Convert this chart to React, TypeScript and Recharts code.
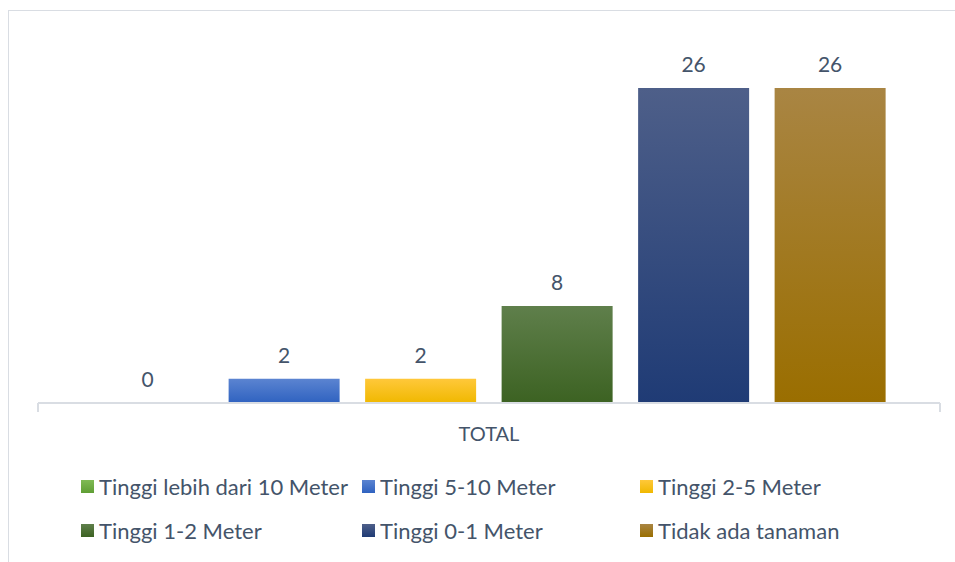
import React from 'react';
import { BarChart, Bar, XAxis, YAxis, Legend, LabelList } from 'recharts';

const categories = ['TOTAL'];
const seriesNames = [
  'Tinggi lebih dari 10 Meter',
  'Tinggi 5-10 Meter',
  'Tinggi 2-5 Meter',
  'Tinggi 1-2 Meter',
  'Tinggi 0-1 Meter',
  'Tidak ada tanaman',
];
const seriesValues = [0, 2, 2, 8, 26, 26];
const yDomain = [0, 30];

const colorsTop = ['#80BA55', '#5B84D1', '#FFC83A', '#5F7F4B', '#4E5F89', '#A98543'];
const colorsBottom = ['#5F9E34', '#2F62C0', '#F0B800', '#3C6222', '#1F3B75', '#9A6E00'];

const data = categories.map((c) => {
  const row: any = { name: c };
  seriesNames.forEach((s, i) => {
    row['s' + i] = seriesValues[i];
  });
  return row;
});

const FONT = 'Lato, "Open Sans", sans-serif';
const TEXT = '#44546A';
const AXIS = '#D9DDE3';

const legendCols = [81, 362, 640];
const legendRowTop = [0, 44];

const LegendContent = () => (
  <div style={{ position: 'relative', width: 955, height: 96, fontFamily: FONT }}>
    {seriesNames.map((s, i) => {
      const col = i % 3;
      const row = Math.floor(i / 3);
      return (
        <div
          key={s}
          style={{
            position: 'absolute',
            left: legendCols[col],
            top: legendRowTop[row],
            height: 44,
            display: 'flex',
            alignItems: 'center',
            whiteSpace: 'nowrap',
          }}
        >
          <span
            style={{
              display: 'inline-block',
              width: 13,
              height: 13,
              marginRight: 5,
              background: `linear-gradient(${colorsTop[i]}, ${colorsBottom[i]})`,
            }}
          />
          <span style={{ fontSize: 22, color: TEXT }}>{s}</span>
        </div>
      );
    })}
  </div>
);

const CategoryTick = (props: any) => {
  const { x, y, payload } = props;
  const half = payload && payload.offset ? payload.offset : 451;
  return (
    <g>
      <line x1={x - half} x2={x - half} y1={y} y2={y + 9} stroke={AXIS} strokeWidth={2} />
      <line x1={x + half} x2={x + half} y1={y} y2={y + 9} stroke={AXIS} strokeWidth={2} />
      <text x={x} y={y + 38} textAnchor="middle" fill={TEXT} fontSize={20} fontFamily={FONT}>
        {payload.value}
      </text>
    </g>
  );
};

export default function App() {
  return (
    <div style={{ position: 'absolute', left: 0, top: 0, width: 955, height: 562, overflow: 'hidden', background: '#fff' }}>
      <div
        style={{
          position: 'absolute',
          left: 8,
          top: 10,
          width: 1000,
          height: 600,
          border: '1px solid #D9DDE3',
          boxSizing: 'border-box',
        }}
      />
      <div style={{ position: 'absolute', left: 0, top: 0 }}>
        <BarChart
          width={955}
          height={562}
          data={data}
          margin={{ top: 39.5, right: 15, left: 38, bottom: 33 }}
          barCategoryGap="6%"
          barGap={25.5}
          style={{ fontFamily: FONT }}
        >
          <defs>
            {seriesNames.map((s, i) => (
              <linearGradient key={s} id={'grad' + i} x1="0" y1="0" x2="0" y2="1">
                <stop offset="0%" stopColor={colorsTop[i]} />
                <stop offset="100%" stopColor={colorsBottom[i]} />
              </linearGradient>
            ))}
          </defs>
          <XAxis
            dataKey="name"
            axisLine={{ stroke: AXIS, strokeWidth: 2 }}
            tickLine={false}
            tickSize={0}
            tickMargin={0}
            height={30}
            tick={<CategoryTick />}
          />
          <YAxis hide domain={yDomain} />
          {seriesNames.map((s, i) => (
            <Bar
              key={s}
              dataKey={'s' + i}
              name={s}
              fill={`url(#grad${i})`}
              minPointSize={0.01}
              isAnimationActive={false}
            >
              <LabelList
                dataKey={'s' + i}
                position="top"
                offset={16}
                fill={TEXT}
                fontSize={21}
                fontFamily={FONT}
              />
            </Bar>
          ))}
          <Legend
            verticalAlign="bottom"
            content={<LegendContent />}
            wrapperStyle={{ top: 464, left: 0, bottom: 'auto', width: 955, height: 96 }}
          />
        </BarChart>
      </div>
    </div>
  );
}
